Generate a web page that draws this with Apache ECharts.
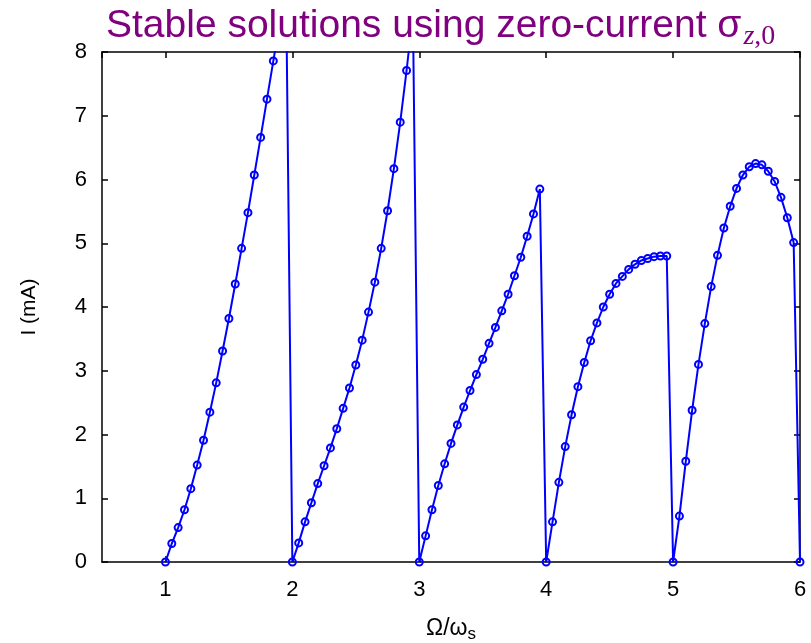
<!DOCTYPE html>
<html>
<head>
<meta charset="utf-8">
<script src="https://cdn.jsdelivr.net/npm/echarts@6/dist/echarts.min.js"></script>
<style>
  html, body { margin: 0; padding: 0; background: #ffffff; }
  #chart { width: 811px; height: 643px; }
</style>
</head>
<body>
<div id="chart"></div>
<script>
// Ω/ω_s sample points
const omega = [
  1.00, 1.05, 1.10, 1.15, 1.20, 1.25, 1.30, 1.35, 1.40, 1.45, 1.50, 1.55, 1.60, 1.65, 1.70, 1.75, 1.80, 1.85, 1.90, 1.95,
  2.00, 2.05, 2.10, 2.15, 2.20, 2.25, 2.30, 2.35, 2.40, 2.45, 2.50, 2.55, 2.60, 2.65, 2.70, 2.75, 2.80, 2.85, 2.90, 2.95,
  3.00, 3.05, 3.10, 3.15, 3.20, 3.25, 3.30, 3.35, 3.40, 3.45, 3.50, 3.55, 3.60, 3.65, 3.70, 3.75, 3.80, 3.85, 3.90, 3.95,
  4.00, 4.05, 4.10, 4.15, 4.20, 4.25, 4.30, 4.35, 4.40, 4.45, 4.50, 4.55, 4.60, 4.65, 4.70, 4.75, 4.80, 4.85, 4.90, 4.95,
  5.00, 5.05, 5.10, 5.15, 5.20, 5.25, 5.30, 5.35, 5.40, 5.45, 5.50, 5.55, 5.60, 5.65, 5.70, 5.75, 5.80, 5.85, 5.90, 5.95,
  6.00
];
// I (mA), band by band
const band1 = [0, 0.29, 0.54, 0.82, 1.15, 1.52, 1.91, 2.35, 2.81, 3.31, 3.82, 4.36, 4.92, 5.48, 6.07, 6.66, 7.26, 7.86, 8.45, 9.10];
const band2 = [0, 0.30, 0.63, 0.93, 1.23, 1.51, 1.79, 2.09, 2.41, 2.73, 3.09, 3.48, 3.92, 4.39, 4.92, 5.51, 6.17, 6.90, 7.71, 8.60];
const band3 = [0, 0.41, 0.82, 1.20, 1.54, 1.86, 2.15, 2.43, 2.69, 2.94, 3.18, 3.43, 3.68, 3.94, 4.20, 4.49, 4.78, 5.11, 5.46, 5.85];
const band4 = [0, 0.63, 1.25, 1.81, 2.31, 2.75, 3.13, 3.47, 3.75, 4.00, 4.20, 4.37, 4.48, 4.59, 4.67, 4.73, 4.76, 4.79, 4.80, 4.80];
const band5 = [0, 0.72, 1.58, 2.38, 3.10, 3.74, 4.32, 4.81, 5.24, 5.58, 5.86, 6.07, 6.20, 6.25, 6.23, 6.13, 5.97, 5.72, 5.40, 5.01];
const bandEnd = [0];
const yTicks = [0, 1, 2, 3, 4, 5, 6, 7, 8];

const current = [].concat(band1, band2, band3, band4, band5, bandEnd);
const points = omega.map((w, i) => [w, current[i]]);

const FONT = 'Liberation Sans';
const frame = { show: true, onZero: false, lineStyle: { color: '#000', width: 1.5 } };
const tick = { show: true, inside: true, length: 6, lineStyle: { color: '#000', width: 1.5 } };

const chart = echarts.init(document.getElementById('chart'), null, { renderer: 'canvas' });
chart.setOption({
  animation: false,
  backgroundColor: '#ffffff',
  title: {
    text: 'Stable solutions using zero-current σ{subi|z}{sub|,0}',
    left: 101,
    top: -4,
    textStyle: {
      fontFamily: FONT,
      fontSize: 39,
      fontWeight: 'normal',
      color: '#800080',
      rich: {
        subi: { fontFamily: 'Liberation Serif', fontStyle: 'italic', fontSize: 28, color: '#800080', padding: [22, 0, 0, 2] },
        sub: { fontFamily: 'Liberation Serif', fontSize: 28, color: '#800080', padding: [22, 0, 0, 0] }
      }
    }
  },
  grid: { left: 102, right: 11, top: 52, bottom: 81, containLabel: false, outerBoundsMode: 'none' },
  xAxis: [
    {
      type: 'value', min: 0.5, max: 6, position: 'bottom',
      axisLine: frame, axisTick: tick, splitLine: { show: false },
      axisLabel: { showMinLabel: false, fontFamily: FONT, fontSize: 22, color: '#000', margin: 17 },
      name: 'Ω/ω{s|s}', nameLocation: 'middle', nameGap: 53,
      nameTextStyle: { fontFamily: FONT, fontSize: 23, color: '#000',
        rich: { s: { fontFamily: FONT, fontSize: 17, color: '#000', padding: [11, 0, 0, 0] } } }
    },
    {
      type: 'value', min: 0.5, max: 6, position: 'top',
      axisLine: frame, axisTick: tick, splitLine: { show: false },
      axisLabel: { show: false }
    }
  ],
  yAxis: [
    {
      type: 'value', min: yTicks[0], max: yTicks[yTicks.length - 1], interval: 1, position: 'left',
      axisLine: frame, axisTick: tick, splitLine: { show: false },
      axisLabel: { fontFamily: FONT, fontSize: 22, color: '#000', margin: 15 },
      name: 'I (mA)', nameLocation: 'middle', nameGap: 62, nameRotate: 90,
      nameTextStyle: { fontFamily: FONT, fontSize: 21, color: '#000' }
    },
    {
      type: 'value', min: yTicks[0], max: yTicks[yTicks.length - 1], interval: 1, position: 'right',
      axisLine: frame, axisTick: tick, splitLine: { show: false },
      axisLabel: { show: false }
    }
  ],
  series: [{
    type: 'line',
    data: points,
    xAxisIndex: 0,
    yAxisIndex: 0,
    clip: true,
    symbol: 'circle',
    symbolSize: 7,
    showAllSymbol: true,
    lineStyle: { color: '#0000ff', width: 2 },
    itemStyle: { color: 'rgba(255,255,255,0)', borderColor: '#0000ff', borderWidth: 2 },
    emphasis: { disabled: true }
  }]
});
</script>
</body>
</html>
